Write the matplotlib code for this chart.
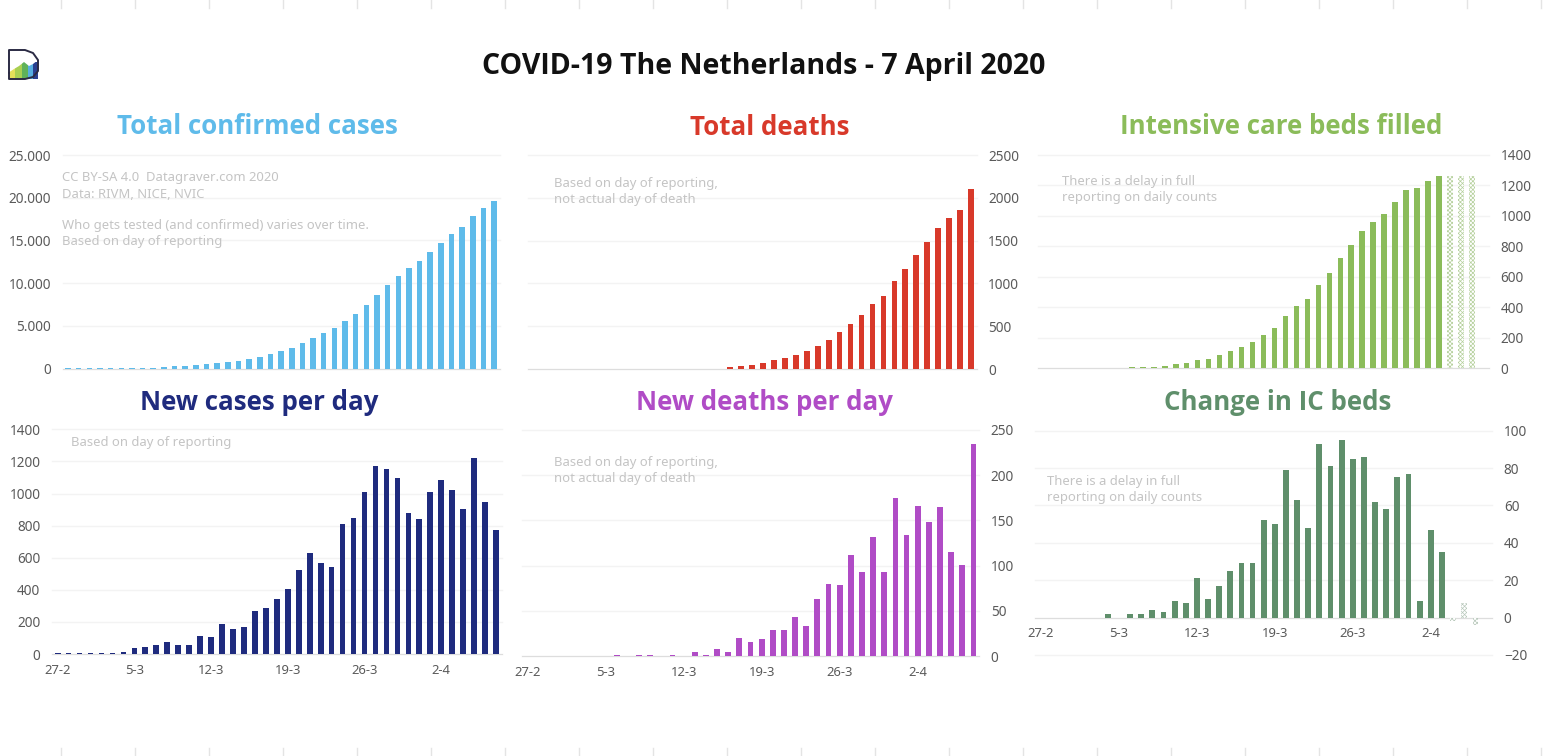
import matplotlib
matplotlib.use('Agg')
import matplotlib.pyplot as plt
from matplotlib.lines import Line2D
from matplotlib.patches import Polygon, Rectangle

W = 1550
H = 756

plt.rcParams['font.family'] = ['Noto Sans', 'DejaVu Sans']
plt.rcParams['hatch.linewidth'] = 0.5

dias = list(range(41))
datas = ['27-2', '5-3', '12-3', '19-3', '26-3', '2-4']
datas_pos = [0, 7, 14, 21, 28, 35]

total_casos = [100, 100, 100, 100, 100, 100, 100, 100, 100, 188, 265, 321, 382, 503,
               614, 804, 959, 1135, 1413, 1705, 2051, 2460, 2994, 3631, 4204, 4749,
               5560, 6412, 7431, 8603, 9762, 10866, 11750, 12595, 13614, 14697,
               15723, 16627, 17851, 18803, 19580]
novos_casos = [6, 6, 6, 6, 6, 6, 15, 38, 46, 55, 75, 55, 55, 115, 108, 185, 155, 170,
               270, 285, 340, 405, 525, 630, 565, 545, 810, 850, 1010, 1170, 1150,
               1095, 880, 840, 1010, 1085, 1020, 905, 1220, 950, 770]
total_mortes = [0, 0, 0, 0, 0, 0, 0, 0, 0, 0, 0, 0, 0, 0, 0, 0, 0, 0,
                20, 30, 45, 65, 100, 125, 165, 205, 265, 342, 430, 530, 635, 765,
                855, 1030, 1165, 1335, 1487, 1642, 1765, 1860, 2100]
novas_mortes = [0, 0, 0, 0, 0, 0, 0, 0, 1, 0, 1, 1, 0, 1, 0, 4, 1, 8, 4, 20, 15, 19,
                29, 29, 43, 33, 63, 80, 78, 112, 93, 132, 93, 175, 134, 166, 148,
                165, 115, 101, 234]
ic_total = [0, 0, 0, 0, 0, 0, 0, 0, 5, 5, 5, 12, 25, 35, 50, 60, 85, 110, 135, 170,
            215, 265, 345, 405, 455, 545, 625, 725, 810, 900, 960, 1015, 1090, 1170,
            1180, 1230, 1265]
ic_total_atraso = [1265, 1265, 1265]
ic_novos = [0, 0, 0, 0, 0, 0, 2, 0, 2, 2, 4, 3, 9, 8, 21, 10, 17, 25, 29, 29, 52, 50,
            79, 63, 48, 93, 81, 95, 85, 86, 62, 58, 75, 77, 9, 47, 35]
ic_novos_atraso = [-2, 8, -4]

ticks_casos = [0, 5000, 10000, 15000, 20000, 25000]
labels_casos = ['0', '5.000', '10.000', '15.000', '20.000', '25.000']
ticks_novos = [0, 200, 400, 600, 800, 1000, 1200, 1400]
ticks_mortes = [0, 500, 1000, 1500, 2000, 2500]
ticks_novas_mortes = [0, 50, 100, 150, 200, 250]
ticks_ic = [0, 200, 400, 600, 800, 1000, 1200, 1400]
ticks_ic_novos = [-20, 0, 20, 40, 60, 80, 100]

azul = '#5fbbea'
vermelho = '#d8392a'
verde = '#8bbc5a'
marinho = '#1f2b7e'
roxo = '#b04cc6'
verde_escuro = '#5f8f6b'
cinza_nota = '#c4c4c4'
cinza_tick = '#5a5a5a'


def eixo(x0, y0, x1, y1, valores, cor, ticks, lado, labels=None, com_datas=False):
    ax = fig.add_axes([x0 / W, 1 - y1 / H, (x1 - x0) / W, (y1 - y0) / H])
    ax.bar(dias[:len(valores)], valores, width=0.52, color=cor, zorder=3)
    ax.set_xlim(-0.5, 40.5)
    ax.set_ylim(ticks[0], ticks[-1])
    for s in ['top', 'left', 'right']:
        ax.spines[s].set_visible(False)
    ax.spines['bottom'].set_position(('data', 0))
    ax.spines['bottom'].set_color('#dddddd')
    ax.spines['bottom'].set_zorder(2)
    ax.set_yticks(ticks)
    if labels:
        ax.set_yticklabels(labels)
    ax.yaxis.set_ticks_position(lado)
    ax.tick_params(axis='y', length=0, pad=8.5, labelsize=9.8, labelcolor=cinza_tick)
    if com_datas:
        ax.set_xticks(datas_pos)
        ax.set_xticklabels(datas)
        ax.tick_params(axis='x', length=0, pad=7, labelsize=9.4, labelcolor=cinza_tick)
    else:
        ax.set_xticks([])
    ax.grid(axis='y', color='#f3f3f3', linewidth=1, zorder=0)
    ax.set_axisbelow(True)
    ax.patch.set_alpha(0)
    for linha in ax.get_ygridlines():
        linha.set_clip_on(False)
    return ax


def texto(x, y, s, **kw):
    fig.text(x / W, 1 - y / H, s, va='center', **kw)


def nota(x, y, s):
    texto(x, y + 1, s, ha='left', color=cinza_nota, fontsize=9.4)


def titulo(x, y, s, cor):
    texto(x, y + 1.5, s, ha='center', fontsize=18.6, fontweight='bold', color=cor,
          family=['Open Sans', 'DejaVu Sans'])


fig = plt.figure(figsize=(15.5, 7.56), dpi=100)

eixo(62.7, 155, 499.5, 368.7, total_casos, azul, ticks_casos, 'left', labels=labels_casos)
eixo(527.5, 155, 976.5, 369, total_mortes, vermelho, ticks_mortes, 'right')
ax3 = eixo(1038.4, 155, 1488.6, 368, ic_total, verde, ticks_ic, 'right')
ax3.bar([37, 38, 39], ic_total_atraso, width=0.5, facecolor='white', edgecolor='#b5d09c',
        hatch='xxxxxxxx', linewidth=0, zorder=3)
eixo(52.2, 429.3, 501.5, 654, novos_casos, marinho, ticks_novos, 'left', com_datas=True)
eixo(522, 430, 979, 656, novas_mortes, roxo, ticks_novas_mortes, 'right', com_datas=True)
ax6 = eixo(1035.4, 430.7, 1492, 655, ic_novos, verde_escuro, ticks_ic_novos, 'right', com_datas=True)
ax6.bar([37, 38, 39], ic_novos_atraso, width=0.5, facecolor='white', edgecolor='#b9c9bc',
        hatch='xxxxxxxx', linewidth=0, zorder=3)

texto(764, 66.5, 'COVID-19 The Netherlands - 7 April 2020', ha='center', fontsize=20.5,
      fontweight='bold', color='#111111', family=['Open Sans', 'DejaVu Sans'])
titulo(257, 125, 'Total confirmed cases', azul)
titulo(770, 126, 'Total deaths', vermelho)
titulo(1281, 125, 'Intensive care beds filled', verde)
titulo(259, 401, 'New cases per day', marinho)
titulo(765, 401, 'New deaths per day', roxo)
titulo(1278, 401, 'Change in IC beds', verde_escuro)

nota(62, 177, 'CC BY-SA 4.0  Datagraver.com 2020')
nota(62, 194, 'Data: RIVM, NICE, NVIC')
nota(62, 225, 'Who gets tested (and confirmed) varies over time.')
nota(62, 240, 'Based on day of reporting')
nota(554, 182, 'Based on day of reporting,')
nota(554, 199, 'not actual day of death')
nota(1062, 181, 'There is a delay in full')
nota(1062, 197, 'reporting on daily counts')
nota(71, 442, 'Based on day of reporting')
nota(554, 461, 'Based on day of reporting,')
nota(554, 477, 'not actual day of death')
nota(1047, 480, 'There is a delay in full')
nota(1047, 496, 'reporting on daily counts')

# marcas cinza nas bordas da imagem
for x in range(61, W, 74):
    fig.add_artist(Line2D([x / W, x / W], [1, 1 - 8 / H], color='#e4e4e4', linewidth=1))
    fig.add_artist(Line2D([x / W, x / W], [0, 8 / H], color='#e4e4e4', linewidth=1))

# logo
logo = fig.add_axes([6 / W, 1 - 82 / H, 36 / W, 34 / H])
logo.set_xlim(6, 42)
logo.set_ylim(82, 48)
logo.axis('off')
faixas = [(9, 15, '#e4e05a'), (15, 22, '#a8cf52'), (22, 28, '#5fb25a'), (28, 33, '#57aee0'), (33, 38, '#2a3f8f')]
for a, b, c in faixas:
    logo.add_patch(Rectangle((a, 62), b - a, 17, facecolor=c, edgecolor='none', zorder=1))
logo.add_patch(Polygon([(8, 48), (42, 48), (42, 57), (38, 60), (33, 64), (29, 66), (24, 62), (19, 66),
                        (14, 69), (8, 73)], closed=True, facecolor='white', edgecolor='none', zorder=2))
logo.plot([9, 9, 25, 33, 38, 38, 33, 25, 9, 9], [73, 50, 50, 53, 60, 71, 77, 79, 79, 73],
          color='#2b2b44', linewidth=1.4, zorder=3)

fig.savefig('out.png', dpi=100)
